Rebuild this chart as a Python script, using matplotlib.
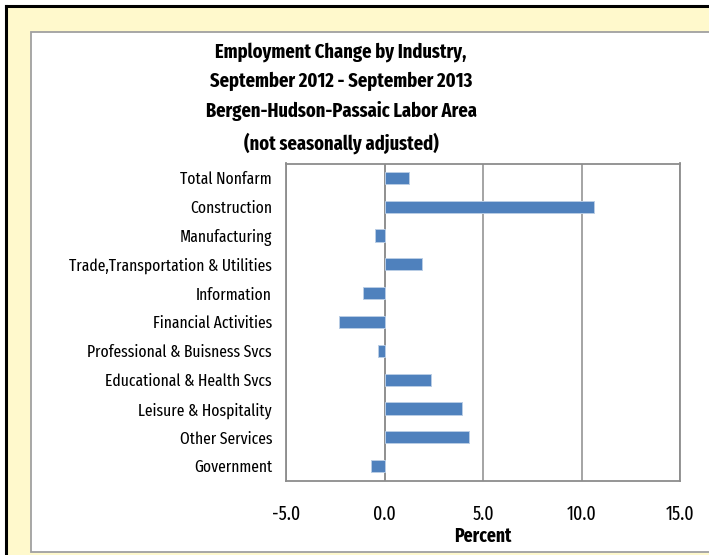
import matplotlib.pyplot as plt
from matplotlib.patches import Rectangle

# industries, top to bottom as in the chart
industries = ['Total Nonfarm', 'Construction', 'Manufacturing',
              'Trade,Transportation & Utilities', 'Information',
              'Financial Activities', 'Professional & Buisness Svcs',
              'Educational & Health Svcs', 'Leisure & Hospitality',
              'Other Services', 'Government']
# percent change Sept 2012 - Sept 2013
pct_change = [1.24, 10.65, -0.49, 1.92, -1.08, -2.29, -0.34, 2.37, 3.92, 4.29, -0.71]
x_ticks = [-5.0, 0.0, 5.0, 10.0, 15.0]

font = ['Fira Sans Extra Condensed', 'Carlito', 'DejaVu Sans']

fig = plt.figure(figsize=(7.09, 5.55), dpi=100)
W, H = 709, 555

#outer yellow frame with black border on top/left
fig.patches.append(Rectangle((5 / W, 0), 1, 1 - 5 / H, transform=fig.transFigure,
                             facecolor='#FFF9CC', edgecolor='none', zorder=0))
fig.lines.append(plt.Line2D([6 / W, 6 / W], [0, 1 - 6 / H], transform=fig.transFigure,
                            color='black', lw=2.2))
fig.lines.append(plt.Line2D([6 / W, 1], [1 - 6 / H, 1 - 6 / H], transform=fig.transFigure,
                            color='black', lw=2.2))
#white inner chart panel
fig.patches.append(Rectangle((31 / W, 3 / H), 1, 1 - 35 / H, transform=fig.transFigure,
                             facecolor='white', edgecolor='#A0A0A0', lw=1.3, zorder=1))

ax = fig.add_axes([286 / W, 1 - 480.5 / H, (680 - 286) / W, (480.5 - 163.5) / H])
ax.set_zorder(2)
y = list(range(len(industries)))
ax.barh(y, pct_change, height=0.42, color='#4F81BD', edgecolor='#B9CDE5', linewidth=0.7, zorder=3)
ax.set_ylim(len(industries) - 0.5, -0.5)
ax.set_xlim(-5, 15)
ax.set_xticks(x_ticks)
ax.set_xticklabels([f'{v:.1f}' for v in x_ticks], family=font, fontsize=14)
ax.set_yticks(y)
ax.set_yticklabels(industries, family=font, fontsize=12.2)
ax.tick_params(length=0, pad=10)
ax.tick_params(axis='x', pad=17)
ax.xaxis.grid(True, color='#8C8C8C', lw=1.1)
ax.axvline(0, color='#8C8C8C', lw=1.1, zorder=2)
for s in ax.spines.values():
    s.set_color('#8C8C8C')
    s.set_linewidth(1.3)
ax.set_xlabel('Percent', family=font, fontsize=13.8, fontweight='bold', labelpad=2)

fig.text(341 / W, 1 - 98 / H,
         'Employment Change by Industry,\nSeptember 2012 - September 2013\n'
         'Bergen-Hudson-Passaic Labor Area\n(not seasonally adjusted)',
         ha='center', va='center', family=font, fontsize=14.4, fontweight='bold',
         linespacing=1.62)

fig.savefig('out.png', dpi=100)
